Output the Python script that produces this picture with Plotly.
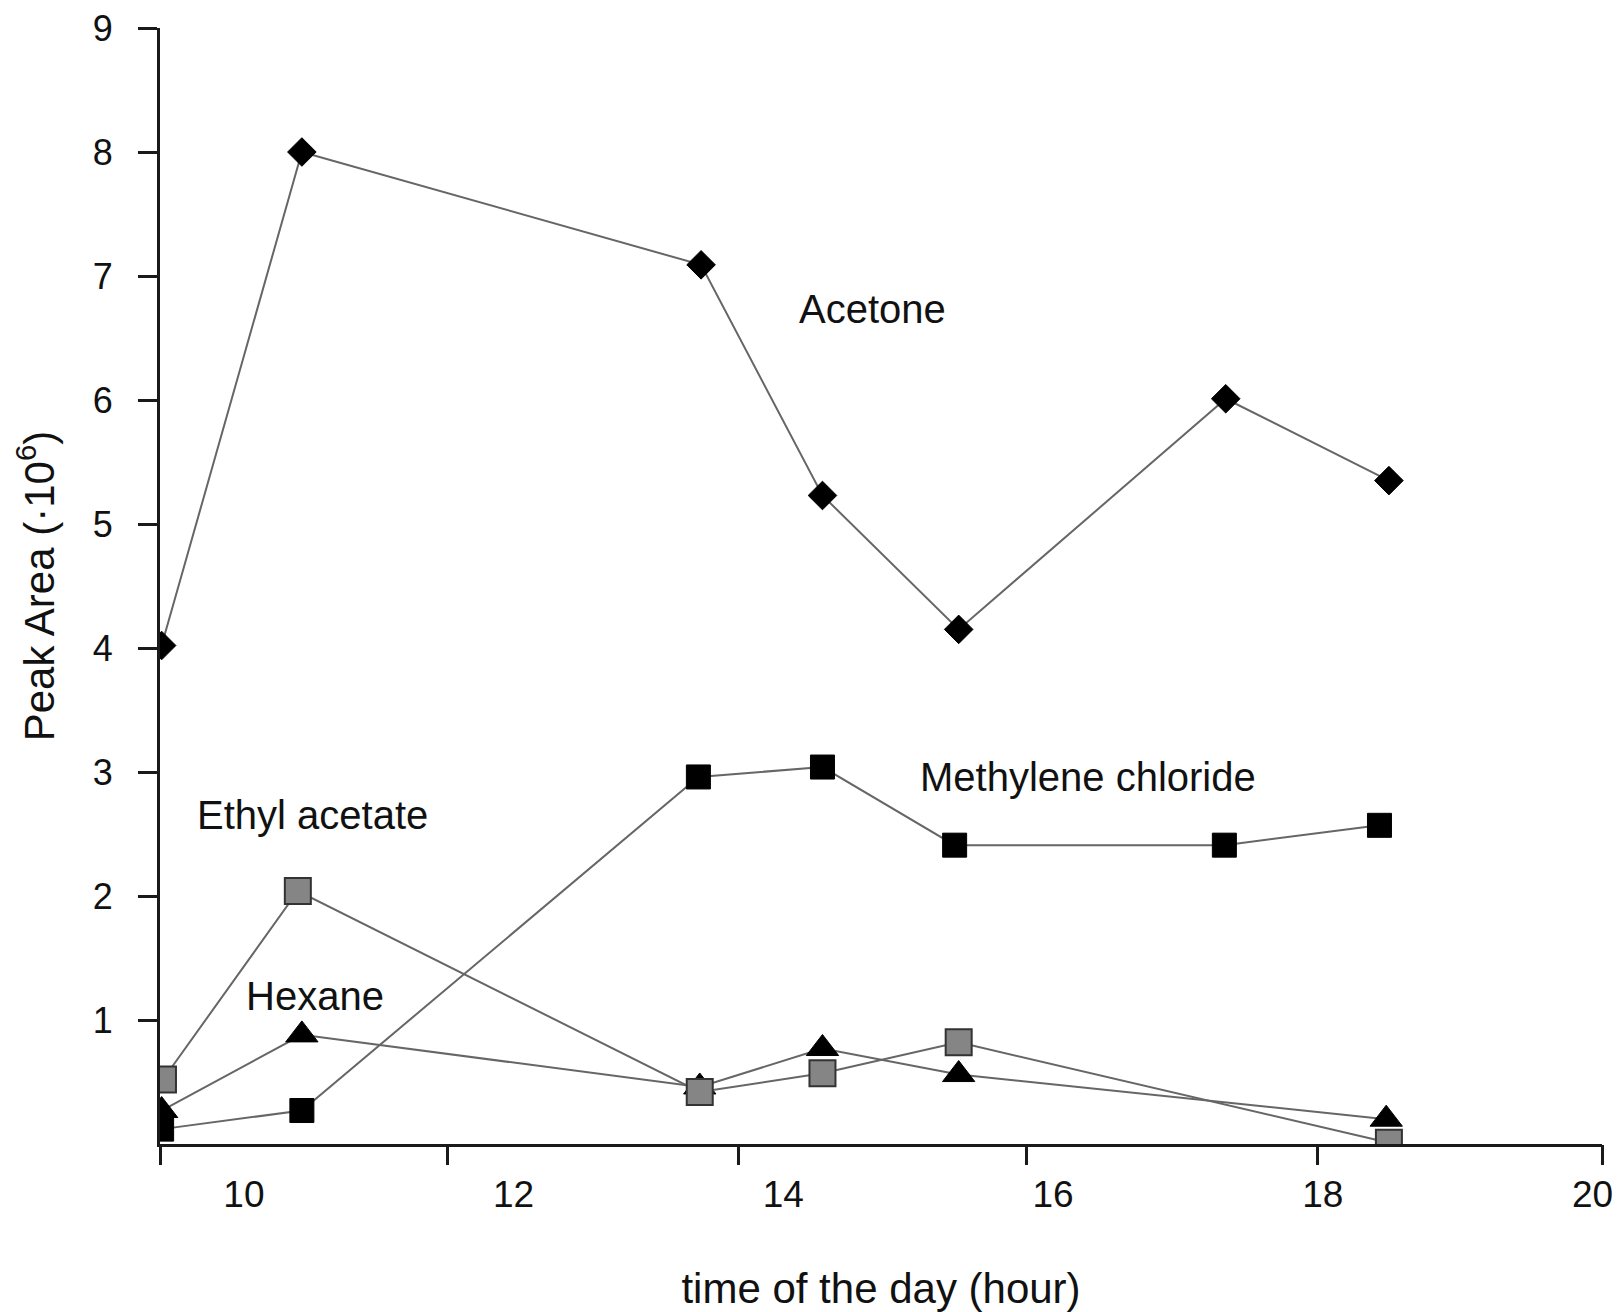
import plotly.graph_objects as go

# ---- data (time of day in hours, peak area in 10^6 units) ----
acetone_x = [9.39, 10.43, 13.39, 14.29, 15.30, 17.28, 18.49]
acetone_y = [4.02, 8.00, 7.09, 5.23, 4.15, 6.01, 5.35]

methylene_x = [9.39, 10.43, 13.37, 14.29, 15.27, 17.27, 18.42]
methylene_y = [0.12, 0.27, 2.96, 3.04, 2.41, 2.41, 2.57]

ethyl_x = [9.40, 10.40, 13.38, 14.29, 15.30, 18.49]
ethyl_y = [0.52, 2.04, 0.42, 0.57, 0.82, 0.01]

hexane_x = [9.39, 10.43, 13.38, 14.29, 15.30, 18.47]
hexane_y = [0.27, 0.88, 0.46, 0.77, 0.56, 0.20]

x_label_vals = [10, 12, 14, 16, 18, 20]
x_label_text = ["10", "12", "14", "16", "18", "20"]
x_tick_marks = [9.378, 11.51, 13.67, 15.80, 17.96, 20.07]
y_tick_vals = [1, 2, 3, 4, 5, 6, 7, 8, 9]
y_tick_text = ["1", "2", "3", "4", "5", "6", "7", "8", "9"]

labels = [
    ("Acetone", 14.66, 6.73),
    ("Methylene chloride", 16.26, 2.96),
    ("Ethyl acetate", 10.51, 2.65),
    ("Hexane", 10.53, 1.19),
]

X_RANGE = [9.378, 20.07]
FONT = "Liberation Sans, Arial, Helvetica, sans-serif"
LINE_COLOR = "#666666"
AX_COLOR = "#1a1a1a"

fig = go.Figure()

fig.add_trace(go.Scatter(
    x=methylene_x, y=methylene_y, mode="lines+markers", name="Methylene chloride",
    line=dict(color=LINE_COLOR, width=2),
    marker=dict(symbol="square", size=24, color="black", line=dict(color="black", width=1)),
))
fig.add_trace(go.Scatter(
    x=hexane_x, y=hexane_y, mode="lines+markers", name="Hexane",
    line=dict(color=LINE_COLOR, width=2),
    marker=dict(symbol="triangle-up", size=28, color="black", line=dict(color="black", width=1)),
))
fig.add_trace(go.Scatter(
    x=ethyl_x, y=ethyl_y, mode="lines+markers", name="Ethyl acetate",
    line=dict(color=LINE_COLOR, width=2),
    marker=dict(symbol="square", size=26, color="#858585", line=dict(color="#333333", width=2)),
))
fig.add_trace(go.Scatter(
    x=acetone_x, y=acetone_y, mode="lines+markers", name="Acetone",
    line=dict(color=LINE_COLOR, width=2),
    marker=dict(symbol="diamond", size=22, color="black", line=dict(color="black", width=1)),
))
# empty trace so the tick-mark axis is instantiated
fig.add_trace(go.Scatter(x=[], y=[], xaxis="x2", yaxis="y", showlegend=False, hoverinfo="skip"))

for text, lx, ly in labels:
    fig.add_annotation(x=lx, y=ly, text=text, showarrow=False,
                       font=dict(family=FONT, size=40, color="#111111"),
                       xanchor="center", yanchor="middle")

fig.update_layout(
    width=1619, height=1312,
    margin=dict(l=160, r=17, t=28, b=168),
    paper_bgcolor="white", plot_bgcolor="white",
    showlegend=False,
    font=dict(family=FONT, color="#111111"),
    xaxis=dict(
        range=X_RANGE, showgrid=False, zeroline=False, automargin=False,
        showline=True, linecolor=AX_COLOR, linewidth=3,
        tickmode="array", tickvals=x_label_vals, ticktext=x_label_text,
        ticks="", ticklabelstandoff=16,
        tickfont=dict(family=FONT, size=37, color="#111111"),
        title=dict(text="time of the day (hour)", font=dict(family=FONT, size=42, color="#111111"),
                   standoff=62),
    ),
    xaxis2=dict(
        range=X_RANGE, overlaying="x", anchor="y", side="bottom", automargin=False,
        showgrid=False, zeroline=False, showline=False,
        tickmode="array", tickvals=x_tick_marks, showticklabels=False,
        ticks="outside", ticklen=20, tickwidth=3, tickcolor=AX_COLOR,
    ),
    yaxis=dict(
        range=[0, 9], showgrid=False, zeroline=False, automargin=False,
        showline=True, linecolor=AX_COLOR, linewidth=3,
        tickmode="array", tickvals=y_tick_vals, ticktext=y_tick_text,
        ticks="outside", ticklen=19, tickwidth=3, tickcolor=AX_COLOR,
        ticklabelstandoff=18,
        tickfont=dict(family=FONT, size=36, color="#111111"),
        title=dict(text="Peak Area (·10<sup>6</sup>)", font=dict(family=FONT, size=42, color="#111111"),
                   standoff=26),
    ),
)

fig.write_html("out.html")
